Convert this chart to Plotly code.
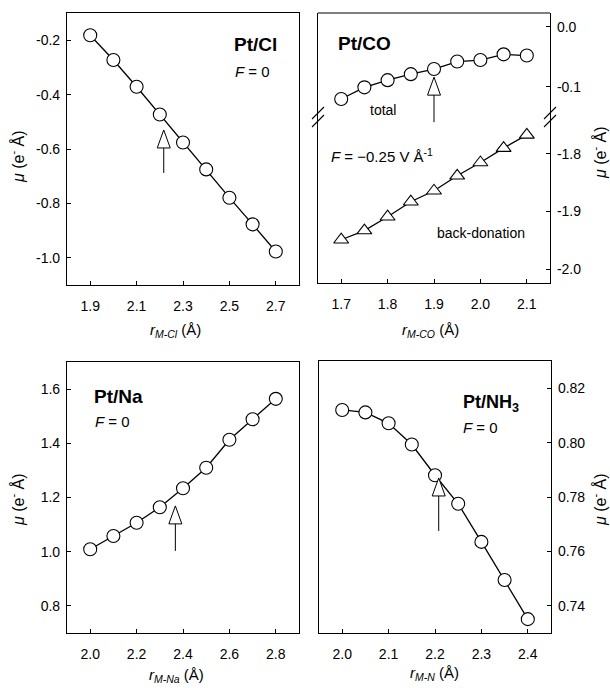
import plotly.graph_objects as go

# ---------------- data ----------------
cl_r = [1.9, 2.0, 2.1, 2.2, 2.3, 2.4, 2.5, 2.6, 2.7]
cl_mu = [-0.182, -0.273, -0.371, -0.473, -0.576, -0.675, -0.779, -0.877, -0.977]

co_r = [1.70, 1.75, 1.80, 1.85, 1.90, 1.95, 2.00, 2.05, 2.10]
co_total = [-0.1205, -0.101, -0.089, -0.079, -0.0705, -0.058, -0.0555, -0.046, -0.048]
co_back = [-1.949, -1.933, -1.909, -1.883, -1.864, -1.838, -1.815, -1.790, -1.767]

na_r = [2.0, 2.1, 2.2, 2.3, 2.4, 2.5, 2.6, 2.7, 2.8]
na_mu = [1.009, 1.058, 1.107, 1.164, 1.234, 1.310, 1.413, 1.489, 1.564]

nh3_r = [2.00, 2.05, 2.10, 2.15, 2.20, 2.25, 2.30, 2.35, 2.40]
nh3_mu = [0.812, 0.8111, 0.8071, 0.7993, 0.788, 0.7775, 0.7635, 0.7495, 0.7351]

# equilibrium-distance arrows (x, tip y)
arrow_cl = (2.217, -0.53)
arrow_co = (1.90, -0.084)
arrow_na = (2.367, 1.169)
arrow_nh3 = (2.208, 0.787)

# tick labels
cl_xticks = [1.9, 2.1, 2.3, 2.5, 2.7]
cl_yticks = [-1.0, -0.8, -0.6, -0.4, -0.2]
cl_yticktext = ["-1.0", "-0.8", "-0.6", "-0.4", "-0.2"]
co_xticks = [1.7, 1.8, 1.9, 2.0, 2.1]
co_ytop_ticks = [-0.1, 0.0]
co_ytop_text = ["-0.1", "0.0"]
co_ybot_ticks = [-2.0, -1.9, -1.8]
co_ybot_text = ["-2.0", "-1.9", "-1.8"]
na_xticks = [2.0, 2.2, 2.4, 2.6, 2.8]
na_yticks = [0.8, 1.0, 1.2, 1.4, 1.6]
nh3_xticks = [2.0, 2.1, 2.2, 2.3, 2.4]
nh3_yticks = [0.74, 0.76, 0.78, 0.80, 0.82]

# ---------------- layout geometry ----------------
W, H = 610, 688
FONT = "Liberation Sans, Arial, Helvetica, sans-serif"


def fx(p):
    return p / W


def fy(p):
    return 1 - p / H


BREAK = 117  # pixel row of the axis break in the Pt/CO panel

rng = {
    "x": [1.8, 2.8], "y": [-1.1, -0.1],
    "x2": [1.65, 2.15], "y2": [-0.1505, 0.023], "y3": [-2.024, -1.736],
    "x3": [1.9, 2.9], "y4": [0.7, 1.7],
    "x4": [1.95, 2.45], "y5": [0.73, 0.83],
}

marker_c = dict(symbol="circle", size=13, color="white", line=dict(color="black", width=1.1))
marker_t = dict(symbol="triangle-up", size=13, color="white", line=dict(color="black", width=1.1))
line_s = dict(color="black", width=1.3)

fig = go.Figure()
fig.add_trace(go.Scatter(x=cl_r, y=cl_mu, mode="lines+markers", marker=marker_c, line=line_s,
                         xaxis="x", yaxis="y", name="Pt/Cl"))
fig.add_trace(go.Scatter(x=co_r, y=co_total, mode="lines+markers", marker=marker_c, line=line_s,
                         xaxis="x2", yaxis="y2", name="total"))
fig.add_trace(go.Scatter(x=co_r, y=co_back, mode="lines+markers", marker=marker_t, line=line_s,
                         xaxis="x2", yaxis="y3", name="back-donation"))
fig.add_trace(go.Scatter(x=na_r, y=na_mu, mode="lines+markers", marker=marker_c, line=line_s,
                         xaxis="x3", yaxis="y4", name="Pt/Na"))
fig.add_trace(go.Scatter(x=nh3_r, y=nh3_mu, mode="lines+markers", marker=marker_c, line=line_s,
                         xaxis="x4", yaxis="y5", name="Pt/NH3"))

tickfont = dict(family=FONT, size=14, color="black")
common = dict(showline=True, linecolor="black", linewidth=1.2, ticks="inside", ticklen=4,
              tickwidth=1, tickcolor="black", showgrid=False, zeroline=False,
              tickfont=tickfont, fixedrange=True)

layout_axes = dict(
    xaxis=dict(domain=[fx(67), fx(299)], range=rng["x"], anchor="y", tickvals=cl_xticks,
               tickformat=".1f", mirror=True, ticklabelstandoff=8, **common),
    yaxis=dict(domain=[fy(285), fy(13)], range=rng["y"], anchor="x", tickvals=cl_yticks,
               ticktext=cl_yticktext, mirror=True, ticklabelstandoff=3, **common),
    xaxis2=dict(domain=[fx(318), fx(550)], range=rng["x2"], anchor="y3", tickvals=co_xticks,
                tickformat=".1f", mirror=False, ticklabelstandoff=8, **common),
    yaxis2=dict(domain=[fy(BREAK), fy(13)], range=rng["y2"], anchor="x2", side="right",
                tickvals=co_ytop_ticks, ticktext=co_ytop_text, mirror=True,
                ticklabelstandoff=3, **common),
    yaxis3=dict(domain=[fy(283), fy(BREAK)], range=rng["y3"], anchor="x2", side="right",
                tickvals=co_ybot_ticks, ticktext=co_ybot_text, mirror=True,
                ticklabelstandoff=3, **common),
    xaxis3=dict(domain=[fx(67), fx(299)], range=rng["x3"], anchor="y4", tickvals=na_xticks,
                tickformat=".1f", mirror=True, ticklabelstandoff=8, **common),
    yaxis4=dict(domain=[fy(633), fy(362)], range=rng["y4"], anchor="x3", tickvals=na_yticks,
                tickformat=".1f", mirror=True, ticklabelstandoff=3, **common),
    xaxis4=dict(domain=[fx(319), fx(551)], range=rng["x4"], anchor="y5", tickvals=nh3_xticks,
                tickformat=".1f", mirror=True, ticklabelstandoff=8, **common),
    yaxis5=dict(domain=[fy(633), fy(361)], range=rng["y5"], anchor="x4", side="right",
                tickvals=nh3_yticks, tickformat=".2f", mirror=True, ticklabelstandoff=3, **common),
)

shapes = []
# top border of the broken Pt/CO panel
shapes.append(dict(type="line", xref="x2 domain", yref="y2 domain", x0=0, x1=1, y0=1, y1=1,
                   line=dict(color="black", width=1.2)))
# break marks (//) on both sides of the Pt/CO panel
for xp in (318, 550):
    for dy in (-4, 4):
        yc = BREAK + dy
        shapes.append(dict(type="line", xref="paper", yref="paper",
                           x0=fx(xp - 6), y0=fy(yc + 6), x1=fx(xp + 6), y1=fy(yc - 6),
                           line=dict(color="black", width=1.1)))


def add_arrow(xax, yax, pt, shaft_len):
    x, y = pt
    xr, yr = rng[xax], rng[yax]
    xa = (x - xr[0]) / (xr[1] - xr[0])
    ya = (y - yr[0]) / (yr[1] - yr[0])
    common_s = dict(xref=f"{xax} domain", yref=f"{yax} domain", xsizemode="pixel",
                    ysizemode="pixel", xanchor=xa, yanchor=ya, layer="above")
    shapes.append(dict(type="path", path="M0,0 L-6.5,-18 L6.5,-18 Z", fillcolor="white",
                       line=dict(color="black", width=1), **common_s))
    shapes.append(dict(type="line", x0=0, x1=0, y0=-18, y1=-shaft_len,
                       line=dict(color="black", width=1), **common_s))


add_arrow("x", "y", arrow_cl, 43)
add_arrow("x2", "y2", arrow_co, 45)
add_arrow("x3", "y4", arrow_na, 45)
add_arrow("x4", "y5", arrow_nh3, 53)

annotations = []


def note(text, xp, yp, size, xanchor="left", angle=0):
    annotations.append(dict(text=text, x=fx(xp), y=fy(yp), xref="paper", yref="paper",
                            xanchor=xanchor, yanchor="middle", showarrow=False,
                            textangle=angle, font=dict(family=FONT, size=size, color="black")))


# panel labels
note("<b>Pt/Cl</b>", 232, 44, 19)
note("<i>F</i> = 0", 233, 72, 15)
note("<b>Pt/CO</b>", 336, 43, 19)
note("total", 383, 110, 14, xanchor="center")
note("<i>F</i> = −0.25 V Å<sup>-1</sup>", 329, 155, 15)
note("back-donation", 481, 233, 14, xanchor="center")
note("<b>Pt/Na</b>", 92, 396, 19)
note("<i>F</i> = 0", 93, 421, 15)
note("<b>Pt/NH<sub>3</sub></b>", 461, 403, 18)
note("<i>F</i> = 0", 461, 427, 15)

# axis titles
ytitle = "<i>μ</i> (e<sup>-</sup> Å)"
note(ytitle, 17, 157, 16, xanchor="center", angle=-90)
note(ytitle, 17, 500, 16, xanchor="center", angle=-90)
note(ytitle, 599, 153, 16, xanchor="center", angle=-90)
note(ytitle, 599, 500, 16, xanchor="center", angle=-90)
note("<i>r</i><sub><i>M-Cl</i></sub> (Å)", 175, 330, 15, xanchor="center")
note("<i>r</i><sub><i>M-CO</i></sub> (Å)", 430, 330, 15, xanchor="center")
note("<i>r</i><sub><i>M-Na</i></sub> (Å)", 176, 675, 15, xanchor="center")
note("<i>r</i><sub><i>M-N</i></sub> (Å)", 434, 673, 15, xanchor="center")

fig.update_layout(
    width=W, height=H, margin=dict(l=0, r=0, t=0, b=0),
    paper_bgcolor="white", plot_bgcolor="white", showlegend=False,
    font=dict(family=FONT, size=13, color="black"),
    shapes=shapes, annotations=annotations, **layout_axes,
)

fig.write_html("out.html")
